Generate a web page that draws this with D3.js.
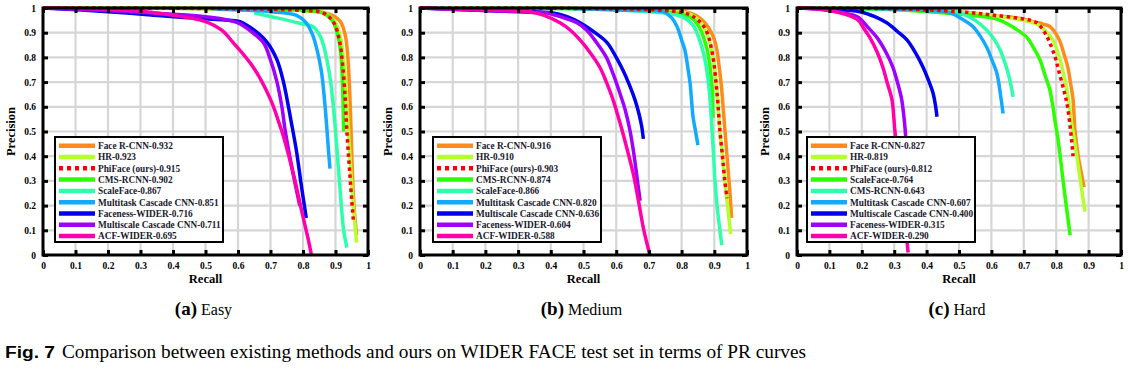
<!DOCTYPE html>
<html>
<head>
<meta charset="utf-8">
<script src="https://cdn.jsdelivr.net/npm/d3@7"></script>
<style>
  body { margin: 0; background: #fff; }
  svg { display: block; }
</style>
</head>
<body>
<svg id="chart" width="1130" height="377"></svg>
<script>

// ---- data (recall, precision) ----

var ticks = [0, 0.1, 0.2, 0.3, 0.4, 0.5, 0.6, 0.7, 0.8, 0.9, 1];

var easyNames = ["Face R-CNN-0.932", "HR-0.923", "PhiFace (ours)-0.915", "CMS-RCNN-0.902", "ScaleFace-0.867",
  "Multitask Cascade CNN-0.851", "Faceness-WIDER-0.716", "Multiscale Cascade CNN-0.711", "ACF-WIDER-0.695"];
var easyCurves = [
  [[0,1],[0.5,0.998],[0.75,0.993],[0.85,0.985],[0.89,0.97],[0.915,0.945],[0.93,0.89],[0.938,0.8],[0.944,0.65],[0.948,0.5],[0.953,0.3],[0.958,0.18],[0.965,0.08]],
  [[0,1],[0.5,0.998],[0.8,0.99],[0.865,0.98],[0.9,0.94],[0.917,0.87],[0.927,0.76],[0.935,0.62],[0.94,0.5],[0.948,0.33],[0.956,0.18],[0.965,0.05]],
  [[0,1],[0.5,0.998],[0.8,0.99],[0.865,0.978],[0.895,0.94],[0.912,0.87],[0.922,0.77],[0.93,0.63],[0.935,0.5],[0.943,0.35],[0.95,0.22],[0.955,0.14]],
  [[0,1],[0.5,0.998],[0.8,0.99],[0.86,0.98],[0.89,0.95],[0.905,0.9],[0.915,0.83],[0.92,0.74],[0.923,0.63],[0.925,0.5]],
  [[0.65,0.98],[0.72,0.96],[0.8,0.935],[0.83,0.925],[0.855,0.88],[0.872,0.8],[0.885,0.7],[0.895,0.58],[0.905,0.42],[0.915,0.25],[0.925,0.1],[0.935,0.03]],
  [[0.53,0.995],[0.7,0.985],[0.78,0.97],[0.81,0.94],[0.83,0.89],[0.845,0.82],[0.857,0.74],[0.866,0.63],[0.873,0.52],[0.878,0.43],[0.883,0.35]],
  [[0,1],[0.2,0.985],[0.4,0.965],[0.55,0.952],[0.606,0.945],[0.65,0.91],[0.69,0.86],[0.72,0.79],[0.74,0.7],[0.765,0.53],[0.78,0.42],[0.795,0.28],[0.81,0.15]],
  [[0,1],[0.2,0.99],[0.4,0.975],[0.5,0.965],[0.6,0.94],[0.645,0.9],[0.678,0.86],[0.7,0.79],[0.72,0.7],[0.735,0.6],[0.745,0.505],[0.765,0.36],[0.79,0.2]],
  [[0,1],[0.2,0.995],[0.35,0.98],[0.45,0.96],[0.5,0.945],[0.55,0.91],[0.585,0.86],[0.647,0.76],[0.7,0.63],[0.73,0.52],[0.74,0.48],[0.77,0.33],[0.8,0.155],[0.815,0.07],[0.826,0]]
];

var mediumNames = ["Face R-CNN-0.916", "HR-0.910", "PhiFace (ours)-0.903", "CMS-RCNN-0.874", "ScaleFace-0.866",
  "Multitask Cascade CNN-0.820", "Multiscale Cascade CNN-0.636", "Faceness-WIDER-0.604", "ACF-WIDER-0.588"];
var mediumCurves = [
  [[0,1],[0.5,0.998],[0.75,0.99],[0.826,0.98],[0.86,0.955],[0.88,0.925],[0.898,0.88],[0.908,0.83],[0.915,0.76],[0.922,0.68],[0.928,0.58],[0.934,0.48],[0.942,0.35],[0.948,0.25],[0.953,0.15]],
  [[0,1],[0.5,0.998],[0.75,0.99],[0.82,0.978],[0.86,0.94],[0.882,0.88],[0.896,0.8],[0.906,0.7],[0.912,0.6],[0.917,0.505],[0.925,0.4],[0.935,0.27],[0.943,0.17],[0.95,0.085]],
  [[0,1],[0.5,0.998],[0.75,0.99],[0.82,0.975],[0.855,0.945],[0.878,0.9],[0.896,0.8],[0.905,0.7],[0.91,0.63],[0.917,0.505],[0.925,0.4],[0.932,0.3],[0.939,0.23]],
  [[0,1],[0.45,0.998],[0.7,0.99],[0.8,0.975],[0.835,0.955],[0.855,0.92],[0.87,0.87],[0.88,0.82],[0.888,0.75],[0.893,0.68],[0.895,0.6],[0.896,0.555]],
  [[0,1],[0.45,0.997],[0.7,0.985],[0.8,0.965],[0.835,0.93],[0.855,0.87],[0.87,0.8],[0.88,0.72],[0.887,0.63],[0.893,0.505],[0.898,0.4],[0.902,0.3],[0.91,0.18],[0.923,0.04]],
  [[0.465,0.998],[0.65,0.99],[0.743,0.985],[0.77,0.96],[0.786,0.925],[0.8,0.87],[0.81,0.83],[0.82,0.75],[0.826,0.695],[0.835,0.56],[0.842,0.505],[0.85,0.445]],
  [[0,1],[0.2,0.99],[0.35,0.985],[0.407,0.98],[0.45,0.965],[0.49,0.94],[0.53,0.905],[0.572,0.86],[0.6,0.8],[0.62,0.75],[0.64,0.69],[0.657,0.63],[0.67,0.57],[0.678,0.52],[0.683,0.47]],
  [[0,1],[0.2,0.99],[0.35,0.982],[0.388,0.98],[0.44,0.96],[0.48,0.94],[0.51,0.91],[0.54,0.86],[0.57,0.8],[0.59,0.735],[0.61,0.66],[0.627,0.59],[0.642,0.505],[0.655,0.4],[0.665,0.3],[0.673,0.22]],
  [[0,1],[0.15,0.995],[0.3,0.988],[0.336,0.985],[0.38,0.97],[0.428,0.94],[0.46,0.91],[0.49,0.87],[0.52,0.82],[0.55,0.76],[0.57,0.7],[0.59,0.63],[0.605,0.565],[0.618,0.505],[0.635,0.42],[0.652,0.33],[0.668,0.22],[0.683,0.11],[0.703,0]]
];

var hardNames = ["Face R-CNN-0.827", "HR-0.819", "PhiFace (ours)-0.812", "ScaleFace-0.764", "CMS-RCNN-0.643",
  "Multitask Cascade CNN-0.607", "Multiscale Cascade CNN-0.400", "Faceness-WIDER-0.315", "ACF-WIDER-0.290"];
var hardCurves = [
  [[0,1],[0.3,0.995],[0.5,0.985],[0.6,0.97],[0.7,0.955],[0.728,0.945],[0.76,0.935],[0.78,0.925],[0.797,0.9],[0.81,0.87],[0.825,0.81],[0.836,0.76],[0.845,0.69],[0.852,0.63],[0.858,0.505],[0.868,0.4],[0.878,0.33],[0.886,0.275]],
  [[0,1],[0.3,0.995],[0.5,0.983],[0.6,0.97],[0.7,0.95],[0.74,0.935],[0.765,0.91],[0.79,0.87],[0.81,0.8],[0.825,0.72],[0.838,0.63],[0.848,0.53],[0.858,0.45],[0.868,0.36],[0.878,0.27],[0.889,0.175]],
  [[0,1],[0.3,0.997],[0.5,0.985],[0.6,0.972],[0.7,0.955],[0.74,0.94],[0.765,0.9],[0.78,0.86],[0.797,0.8],[0.81,0.735],[0.825,0.66],[0.835,0.6],[0.843,0.52],[0.848,0.46],[0.852,0.4]],
  [[0,1],[0.3,0.993],[0.5,0.975],[0.6,0.96],[0.627,0.95],[0.67,0.92],[0.71,0.88],[0.73,0.84],[0.75,0.79],[0.765,0.73],[0.78,0.67],[0.79,0.6],[0.796,0.545],[0.806,0.465],[0.815,0.37],[0.825,0.26],[0.835,0.16],[0.843,0.08]],
  [[0,1],[0.2,0.998],[0.4,0.99],[0.503,0.98],[0.55,0.95],[0.586,0.91],[0.61,0.87],[0.627,0.83],[0.64,0.785],[0.652,0.735],[0.66,0.69],[0.667,0.64]],
  [[0.24,0.998],[0.4,0.99],[0.472,0.98],[0.51,0.955],[0.543,0.925],[0.566,0.885],[0.586,0.84],[0.603,0.785],[0.617,0.735],[0.628,0.65],[0.636,0.573]],
  [[0,1],[0.1,0.995],[0.194,0.985],[0.24,0.965],[0.277,0.94],[0.31,0.905],[0.34,0.87],[0.365,0.82],[0.389,0.76],[0.405,0.71],[0.42,0.655],[0.428,0.6],[0.432,0.56]],
  [[0,1],[0.1,0.99],[0.185,0.965],[0.22,0.92],[0.247,0.88],[0.275,0.82],[0.296,0.76],[0.312,0.69],[0.323,0.63],[0.33,0.56],[0.334,0.505],[0.34,0.38],[0.345,0.22]],
  [[0,1],[0.1,0.99],[0.185,0.955],[0.205,0.92],[0.225,0.88],[0.248,0.82],[0.265,0.76],[0.28,0.69],[0.293,0.63],[0.302,0.505],[0.315,0.34],[0.33,0.17],[0.343,0.01]]
];

// colour by rank in each legend
var colors = ["#ff8c1a", "#b4ff2e", "#ff0000", "#2cff00", "#2effaa", "#12aaff", "#0000ee", "#a000ff", "#ff00aa"];

var svg = d3.select("#chart");
var serif = "'Liberation Serif', 'Times New Roman', serif";

var top0 = 8, bottom0 = 255;

var panels = [
  {left: 43,  right: 368,  names: easyNames,   curves: easyCurves,   tag: "(a)", sub: "Easy",   legX: 55,  legW: 168},
  {left: 420, right: 747,  names: mediumNames, curves: mediumCurves, tag: "(b)", sub: "Medium", legX: 433, legW: 168},
  {left: 797, right: 1121, names: hardNames,   curves: hardCurves,   tag: "(c)", sub: "Hard",   legX: 807, legW: 168}
];

panels.forEach(drawPanel);

function drawPanel(p) {
  var x = d3.scaleLinear().domain([0, 1]).range([p.left, p.right]);
  var y = d3.scaleLinear().domain([0, 1]).range([bottom0, top0]);
  var g = svg.append("g");

  // grid
  g.append("g").selectAll("line").data(ticks.slice(1, -1)).join("line")
    .attr("x1", d => x(d)).attr("x2", d => x(d)).attr("y1", top0).attr("y2", bottom0)
    .attr("stroke", "#d6d6d6").attr("stroke-width", 2.2);
  g.append("g").selectAll("line").data(ticks.slice(1, -1)).join("line")
    .attr("y1", d => y(d)).attr("y2", d => y(d)).attr("x1", p.left).attr("x2", p.right)
    .attr("stroke", "#d6d6d6").attr("stroke-width", 2.2);

  // curves (PhiFace on top)
  var line = d3.line().x(d => x(d[0])).y(d => y(d[1])).curve(d3.curveCatmullRom.alpha(0.5));
  var order = [0, 1, 3, 4, 5, 6, 7, 8, 2];
  order.forEach(function(i) {
    g.append("path")
      .attr("d", line(p.curves[i]))
      .attr("fill", "none")
      .attr("stroke", colors[i])
      .attr("stroke-width", 3.5)
      .attr("stroke-dasharray", i == 2 ? "3.5,3.5" : null);
  });

  // frame
  g.append("rect").attr("x", p.left).attr("y", top0)
    .attr("width", p.right - p.left).attr("height", bottom0 - top0)
    .attr("fill", "none").attr("stroke", "#000").attr("stroke-width", 3);

  var fmt = d => (d == 0 || d == 1) ? String(d) : d.toFixed(1);

  g.append("g").attr("transform", `translate(0,${bottom0})`)
    .call(d3.axisBottom(x).tickValues(ticks).tickSize(-5).tickPadding(7).tickFormat(fmt));
  g.append("g").attr("transform", `translate(${p.left},0)`)
    .call(d3.axisLeft(y).tickValues(ticks).tickSize(-5).tickPadding(7).tickFormat(fmt));
  g.append("g").attr("transform", `translate(0,${top0})`)
    .call(d3.axisTop(x).tickValues(ticks).tickSize(-5).tickFormat(""));
  g.append("g").attr("transform", `translate(${p.right},0)`)
    .call(d3.axisRight(y).tickValues(ticks).tickSize(-5).tickFormat(""));

  g.selectAll(".domain").remove();
  g.selectAll(".tick line").attr("stroke", "#000").attr("stroke-width", 3);
  g.selectAll(".tick text").attr("font-family", serif).attr("font-weight", "bold")
    .attr("font-size", 9.5).attr("fill", "#000");

  // axis titles
  g.append("text")
    .attr("x", (p.left + p.right) / 2).attr("y", 283)
    .attr("text-anchor", "middle").attr("font-family", serif).attr("font-weight", "bold")
    .attr("font-size", 12.5).text("Recall");
  g.append("text")
    .attr("transform", `translate(${p.left - 28},${(top0 + bottom0) / 2}) rotate(-90)`)
    .attr("text-anchor", "middle").attr("font-family", serif).attr("font-weight", "bold")
    .attr("font-size", 12.5).text("Precision");

  // sub caption
  var cap = g.append("text")
    .attr("x", (p.left + p.right) / 2 - 2).attr("y", 315)
    .attr("text-anchor", "middle").attr("font-family", serif);
  cap.append("tspan").attr("font-weight", "bold").attr("font-size", 19).text(p.tag);
  cap.append("tspan").attr("font-size", 16).text(" " + p.sub);

  // legend
  var legY = 137, rowH = 11.3;
  var leg = g.append("g");
  leg.append("rect").attr("x", p.legX).attr("y", legY).attr("width", p.legW).attr("height", 105)
    .attr("fill", "#fff").attr("stroke", "#000").attr("stroke-width", 2);
  p.names.forEach(function(name, i) {
    var yy = legY + 8.7 + i * rowH;
    leg.append("line").attr("x1", p.legX + 4).attr("x2", p.legX + 40).attr("y1", yy).attr("y2", yy)
      .attr("stroke", colors[i]).attr("stroke-width", 4.5)
      .attr("stroke-dasharray", i == 2 ? "4,4" : null);
    leg.append("text").attr("x", p.legX + 43).attr("y", yy + 3.3)
      .attr("font-family", serif).attr("font-weight", "bold").attr("font-size", 9.3)
      .attr("fill", "#1a1a2e").text(name);
  });
}

// figure caption
var fig = svg.append("text").attr("y", 358);
fig.append("tspan").attr("x", 5).attr("font-family", "'Liberation Sans Narrow', 'Liberation Sans', Arial, sans-serif")
  .attr("font-weight", "bold").attr("font-size", 16).attr("textLength", 50).attr("lengthAdjust", "spacingAndGlyphs")
  .text("Fig. 7");
fig.append("tspan").attr("x", 62).attr("font-family", serif).attr("font-size", 18)
  .attr("textLength", 744).attr("lengthAdjust", "spacingAndGlyphs")
  .text("Comparison between existing methods and ours on WIDER FACE test set in terms of PR curves");

</script>
</body>
</html>
